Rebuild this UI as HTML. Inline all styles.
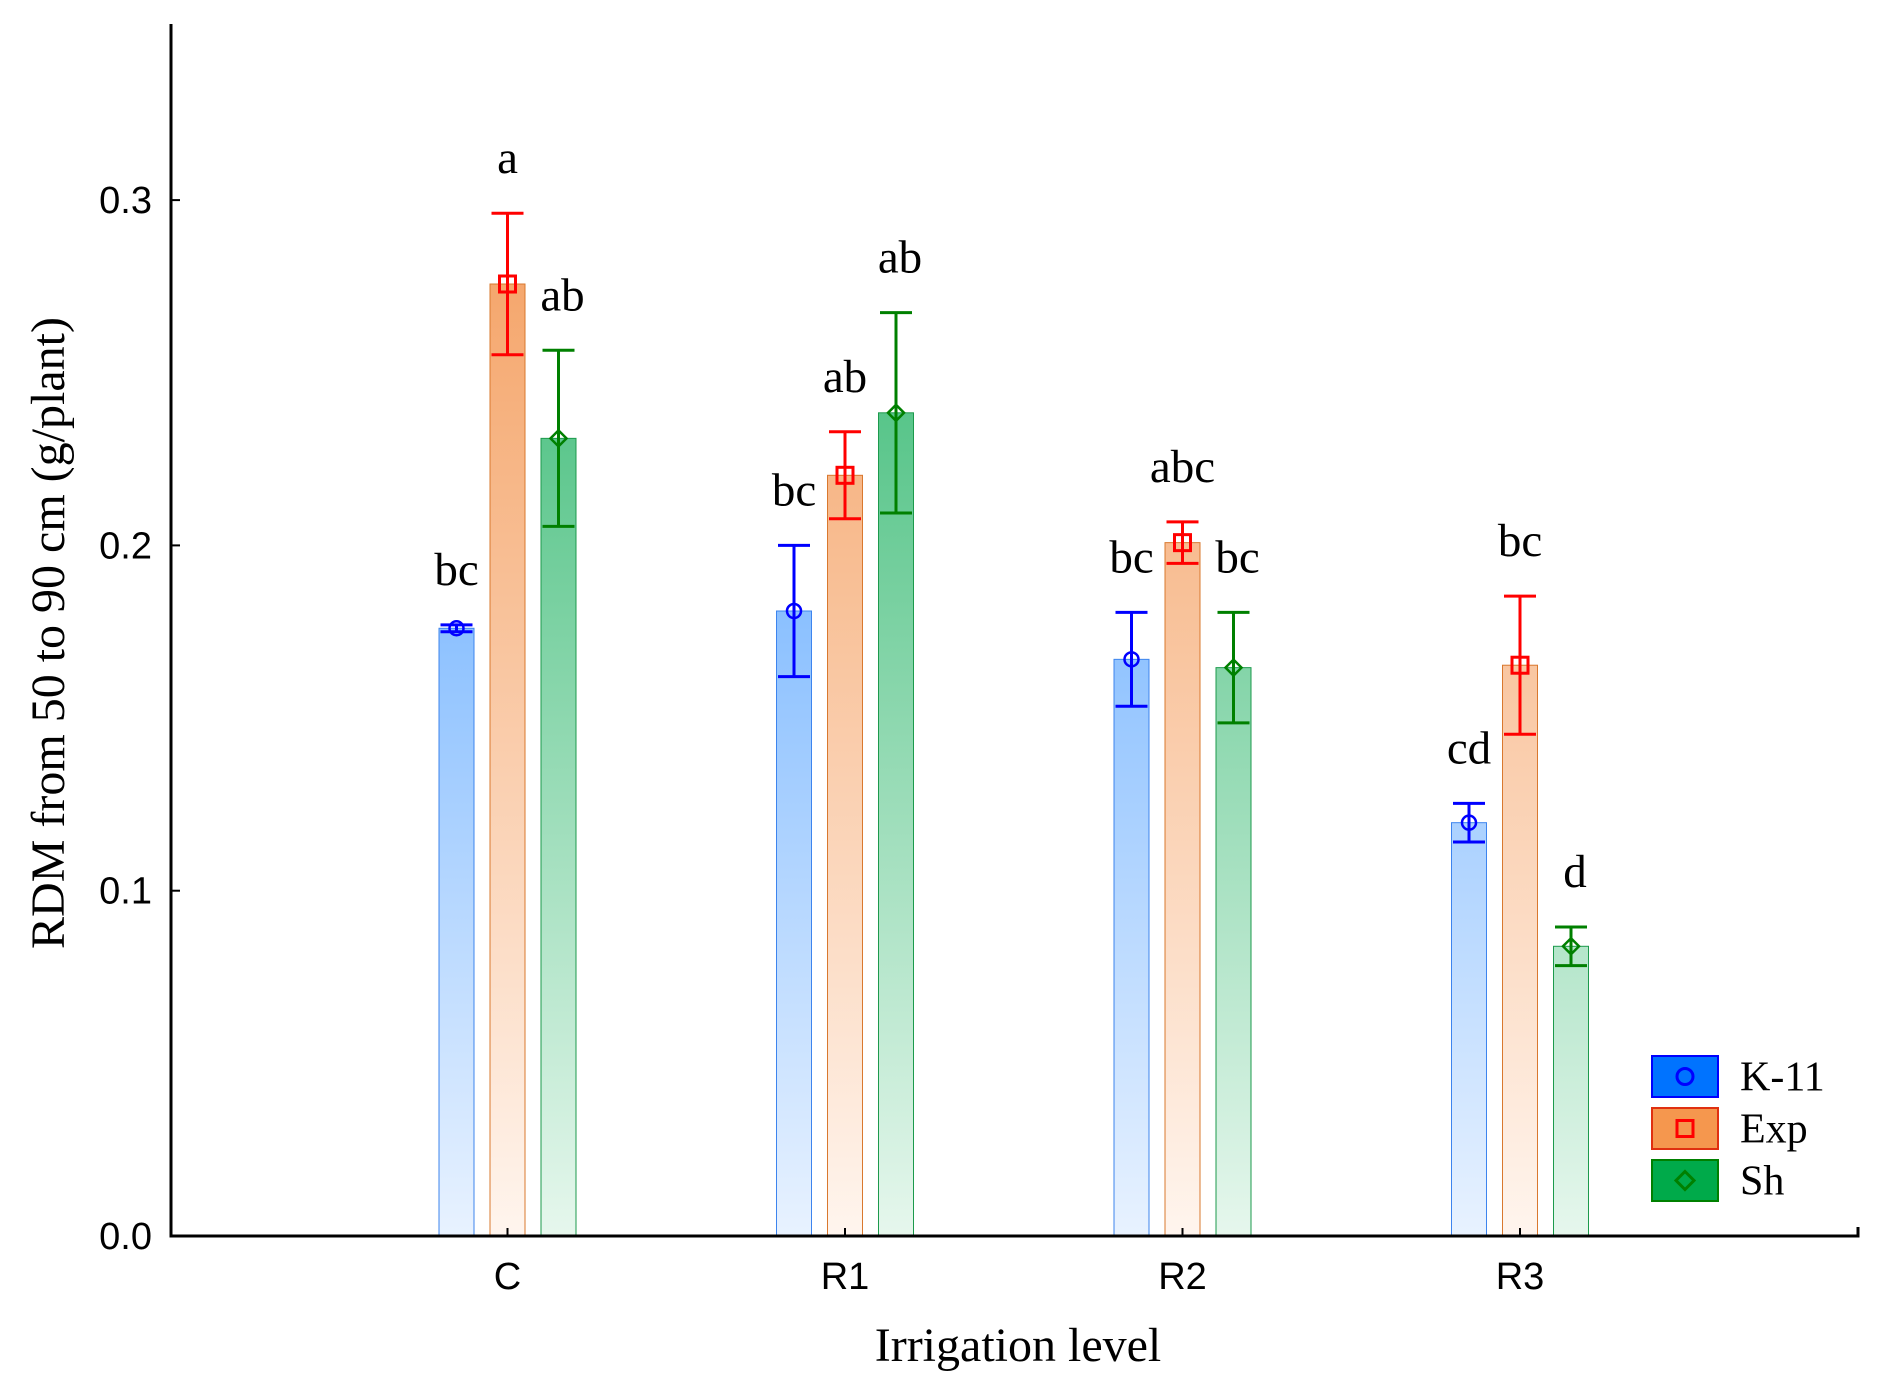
<!DOCTYPE html>
<html><head><meta charset="utf-8"><style>
html,body{margin:0;padding:0;background:#fff;}
svg{display:block;}
</style></head><body>
<svg id="chart" width="1884" height="1390" viewBox="0 0 1884 1390" xmlns="http://www.w3.org/2000/svg">
<defs>
<linearGradient id="gK" gradientUnits="userSpaceOnUse" x1="0" y1="199" x2="0" y2="1236"><stop offset="0" stop-color="#4d9fff"/><stop offset="1" stop-color="#e8f2ff"/></linearGradient>
<linearGradient id="gE" gradientUnits="userSpaceOnUse" x1="0" y1="199" x2="0" y2="1236"><stop offset="0" stop-color="#f4a062"/><stop offset="1" stop-color="#fff5ee"/></linearGradient>
<linearGradient id="gS" gradientUnits="userSpaceOnUse" x1="0" y1="199" x2="0" y2="1236"><stop offset="0" stop-color="#33b870"/><stop offset="1" stop-color="#e6f7ed"/></linearGradient>
</defs>
<g id="plot"></g>
</svg>
<script>
const categories = ["C","R1","R2","R3"];
const seriesNames = ["K-11","Exp","Sh"];
const k11Values = [0.176,0.181,0.167,0.1197];
const expValues = [0.2757,0.2203,0.2008,0.1653];
const shValues = [0.231,0.2384,0.1646,0.0839];
const k11Err = [0.001,0.019,0.0136,0.0056];
const expErr = [0.0205,0.0126,0.006,0.020];
const shErr = [0.0255,0.029,0.016,0.0056];
const k11Letters = ["bc","bc","bc","cd"];
const expLetters = ["a","ab","abc","bc"];
const shLetters = ["ab","ab","bc","d"];
const yTicks = [0.0,0.1,0.2,0.3];
const yTickLabels = ["0.0","0.1","0.2","0.3"];

const NS="http://www.w3.org/2000/svg";
const g=document.getElementById('plot');
const X0=171, Y0=1236, PER=3453, XR=1858, YT=24;
function yS(v){return Y0-v*PER;}
function xS(i){return 507.5+i*337.5;}
function mk(t,a,txt){const e=document.createElementNS(NS,t);for(const k in a)e.setAttribute(k,a[k]);if(txt!==undefined)e.textContent=txt;g.appendChild(e);return e;}

const series=[
 {vals:k11Values,err:k11Err,let:k11Letters,fill:"url(#gK)",stroke:"#3d84ee",col:"#0000ff",off:-51,mark:"circle",name:"k11"},
 {vals:expValues,err:expErr,let:expLetters,fill:"url(#gE)",stroke:"#d9782e",col:"#ff0000",off:0,mark:"square",name:"exp"},
 {vals:shValues,err:shErr,let:shLetters,fill:"url(#gS)",stroke:"#1c9a4c",col:"#008000",off:51,mark:"diamond",name:"sh"}
];
const BW=35;
series.forEach(s=>{
 categories.forEach((c,i)=>{
  const cx=xS(i)+s.off, v=s.vals[i], e=s.err[i];
  const r=mk('rect',{x:cx-BW/2,y:yS(v),width:BW,height:Y0-yS(v),fill:s.fill,stroke:s.stroke,'stroke-width':1});
  
  
  const eb=mk('path',{d:`M${cx},${yS(v+e)}V${yS(v-e)}M${cx-16},${yS(v+e)}H${cx+16}M${cx-16},${yS(v-e)}H${cx+16}`,stroke:s.col,'stroke-width':3,fill:'none'});
  
  
  const y=yS(v);
  let m;
  if(s.mark==='circle') m=mk('circle',{cx:cx,cy:y,r:7,fill:'none',stroke:s.col,'stroke-width':2.5});
  else if(s.mark==='square') m=mk('rect',{x:cx-8,y:y-8,width:16,height:16,fill:'none',stroke:s.col,'stroke-width':3});
  else m=mk('path',{d:`M${cx},${y-8}L${cx+8},${y}L${cx},${y+8}L${cx-8},${y}Z`,fill:'none',stroke:s.col,'stroke-width':2.5});
  
  
  const t=mk('text',{x:cx+(s.off>0?4:0),y:yS(v+e)-40,'text-anchor':'middle','font-family':'Liberation Serif, serif','font-size':47,fill:'#000'},s.let[i]);
  
  
 });
});
// axes
const ax=mk('path',{d:`M${X0},${YT}V${Y0}H${XR}V${Y0-9}`,stroke:'#000','stroke-width':3,fill:'none'});


yTicks.forEach((v,i)=>{
 const tk=mk('line',{x1:X0,x2:X0+9,y1:yS(v),y2:yS(v),stroke:'#000','stroke-width':2});
 
 
 const t=mk('text',{x:152,y:yS(v)+13,'text-anchor':'end','font-family':'Liberation Sans, sans-serif','font-size':38,fill:'#000'},yTickLabels[i]);
 
 
});
categories.forEach((c,i)=>{
 const tk=mk('line',{x1:xS(i),x2:xS(i),y1:Y0,y2:Y0-8,stroke:'#000','stroke-width':2});
 
 
 const t=mk('text',{x:xS(i),y:1289,'text-anchor':'middle','font-family':'Liberation Sans, sans-serif','font-size':38,fill:'#000'},c);
 
 
});
const xt=mk('text',{x:1018,y:1361,'text-anchor':'middle','font-family':'Liberation Serif, serif','font-size':48,fill:'#000'},'Irrigation level');


const yt=mk('text',{x:0,y:0,transform:'translate(64,633) rotate(-90)','text-anchor':'middle','font-family':'Liberation Serif, serif','font-size':48,fill:'#000'},'RDM from 50 to 90 cm (g/plant)');


// legend
const legFill=["#0073ff","#f5974e","#00aa4a"], legStroke=["#0000ff","#e03010","#008000"];
seriesNames.forEach((n,i)=>{
 const y=1056+i*52;
 const r=mk('rect',{x:1652,y:y,width:66,height:41,fill:legFill[i],stroke:legStroke[i],'stroke-width':2});
 
 
 const cx=1685, cy=y+20.5, col=series[i].col;
 let m;
 if(i===0) m=mk('circle',{cx:cx,cy:cy,r:8,fill:'none',stroke:col,'stroke-width':3});
 else if(i===1) m=mk('rect',{x:cx-8,y:cy-8,width:16,height:16,fill:'none',stroke:col,'stroke-width':3});
 else m=mk('path',{d:`M${cx},${cy-9}L${cx+9},${cy}L${cx},${cy+9}L${cx-9},${cy}Z`,fill:'none',stroke:col,'stroke-width':3});
 
 
 const t=mk('text',{x:1740,y:cy+14,'font-family':'Liberation Serif, serif','font-size':42,fill:'#000'},n);
 
 
});
</script>
</body></html>
